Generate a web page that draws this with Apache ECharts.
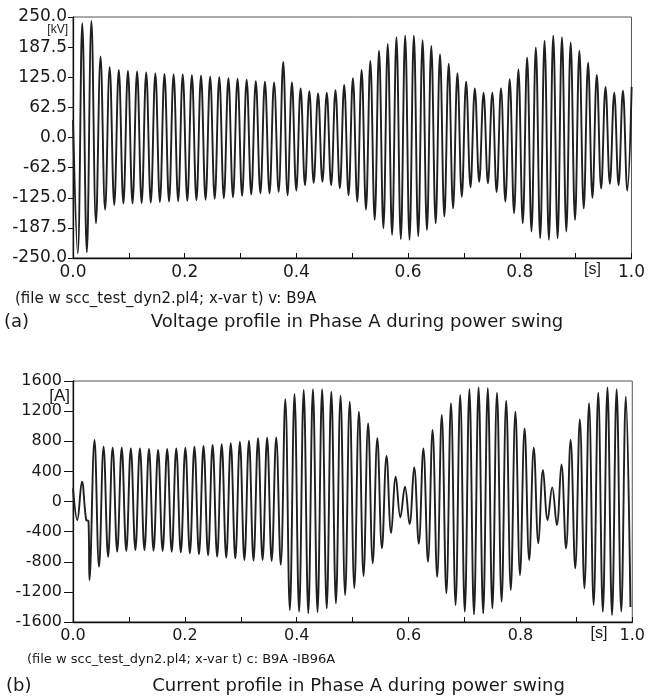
<!DOCTYPE html>
<html>
<head>
<meta charset="utf-8">
<script src="https://cdn.jsdelivr.net/npm/echarts@6/dist/echarts.min.js"></script>
<style>
html,body{margin:0;padding:0;background:#ffffff;}
#c{width:648px;height:697px;}
</style>
</head>
<body>
<div id="c"></div>
<script>
// ---------- Panel (a): voltage, kV ----------
// initial sample at t = 0
const vStart = [[0, 36]];
// successive negative half-cycle peaks (each one precedes the positive peak of same index)
const vNeg = [-240, -238, -178, -150, -140, -137, -137, -136, -135, -134,
              -133, -132, -131, -130, -129, -127, -126, -124, -121, -118,
              -116, -116, -113, -120, -110, -99, -94, -92, -99, -105,
              -120, -133, -150, -171, -188, -202, -211, -212, -205, -192,
              -178, -164, -147, -123, -103, -92, -95, -113, -133, -157,
              -178, -195, -209, -212, -209, -195, -171, -147, -125, -106,
              -96, -99, -110];
// successive positive half-cycle peaks
const vPos = [237, 242, 168, 146, 140, 138, 137, 135, 133, 132,
              131, 131, 129, 128, 126, 125, 123, 122, 120, 117,
              116, 114, 157, 114, 102, 96, 92, 93, 98, 109,
              123, 140, 159, 180, 194, 208, 211, 211, 202, 190,
              173, 153, 133, 116, 102, 93, 93, 102, 121, 141,
              166, 187, 201, 211, 208, 197, 180, 155, 130, 105,
              93, 97, 105];
// times (s) read for some positive peaks (peak index -> time)
const vAnchorIdx = [0, 22, 61];
const vAnchorT = [0.0166, 0.3764, 0.9847];

// ---------- Panel (b): current, A ----------
// start-up transient samples [t, A]
const iStart = [[0, 175], [0.0077, -246], [0.016, 263], [0.0236, -246], [0.0277, -260], [0.0295, -1043]];
// successive positive peaks
const iPos = [816, 728, 715, 715, 706, 706, 697, 684, 697, 706,
              715, 728, 737, 750, 760, 773, 795, 808, 839, 848,
              852, 1357, 1427, 1480, 1490, 1490, 1458, 1405, 1325, 1193,
              1038, 839, 604, 329, 197, 454, 706, 949, 1148, 1304,
              1414, 1490, 1516, 1505, 1445, 1339, 1193, 971, 715, 418,
              188, 493, 817, 1091, 1304, 1445, 1516, 1490, 1392];
// successive negative peaks (each one follows the positive peak of same index)
const iNeg = [-866, -733, -666, -657, -644, -644, -653, -657, -666, -675,
              -688, -700, -715, -733, -746, -755, -777, -786, -777, -790,
              -840, -1441, -1463, -1485, -1470, -1419, -1352, -1242, -1150, -990,
              -820, -620, -420, -210, -300, -560, -800, -1000, -1220, -1375,
              -1463, -1499, -1485, -1419, -1330, -1175, -976, -777, -556, -246,
              -312, -622, -888, -1153, -1375, -1463, -1507, -1463, -1400];
const iAnchorIdx = [0, 21, 58];
const iAnchorT = [0.0384, 0.3796, 0.9885];

// ---------- axis ticks ----------
const xRange = [0, 1], xStep = 0.1;
const vRange = [-250, 250], vStep = 62.5;
const iRange = [-1600, 1600], iStep = 400;

// ---------- build series from the read peaks ----------
function peakTime(k, idx, T) {
  let j = 0;
  while (j < idx.length - 2 && k > idx[j + 1]) j++;
  const per = (T[j + 1] - T[j]) / (idx[j + 1] - idx[j]);
  return { t: T[j] + (k - idx[j]) * per, per: per };
}
const vData = vStart.slice();
for (let k = 0; k < vPos.length; k++) {
  const p = peakTime(k, vAnchorIdx, vAnchorT);
  vData.push([p.t - p.per / 2, vNeg[k]]);
  vData.push([p.t, vPos[k]]);
}
const iData = iStart.slice();
for (let k = 0; k < iPos.length; k++) {
  const p = peakTime(k, iAnchorIdx, iAnchorT);
  iData.push([p.t, iPos[k]]);
  iData.push([p.t + p.per / 2, iNeg[k]]);
}

const FONT = '"DejaVu Sans", sans-serif';
const SANS = '"Liberation Sans", Arial, sans-serif';
const INK = '#1a1a1a';

function tenthLabel(v) {
  const k = Math.round(v * 10);
  return k % 2 === 0 ? (k / 10).toFixed(1) : '';
}
function xAxisCfg(gi, fs) {
  return {
    type: 'value', gridIndex: gi, min: xRange[0], max: xRange[1], interval: xStep,
    axisLine: { show: true, onZero: false, lineStyle: { color: '#111', width: 1.3 } },
    axisTick: { show: true, inside: true, length: 5, lineStyle: { color: '#111', width: 1 } },
    axisLabel: { formatter: tenthLabel, fontSize: fs, fontFamily: FONT, color: INK, margin: 6 },
    splitLine: { show: false }
  };
}
function yAxisCfg(gi, r, step, fs, fmt, tickLen, margin) {
  return {
    type: 'value', gridIndex: gi, min: r[0], max: r[1], interval: step,
    axisLine: { show: true, onZero: false, lineStyle: { color: '#111', width: 1.3 } },
    axisTick: { show: true, inside: false, length: tickLen, lineStyle: { color: '#111', width: 1 } },
    axisLabel: { formatter: fmt, fontSize: fs, fontFamily: FONT, color: INK, margin: margin },
    splitLine: { show: false }
  };
}
function txt(x, y, text, font, align) {
  return { type: 'text', x: x, y: y, silent: true,
    style: { text: text, font: font, fill: INK, align: align, verticalAlign: 'middle' } };
}

const chart = echarts.init(document.getElementById('c'), null, { renderer: 'canvas' });
chart.setOption({
  backgroundColor: '#ffffff',
  animation: false,
  grid: [
    { left: 73, top: 17, width: 560.5, height: 241, show: true, borderColor: '#555', borderWidth: 1, containLabel: false },
    { left: 73, top: 381, width: 564.5, height: 241, show: true, borderColor: '#555', borderWidth: 1, containLabel: false }
  ],
  xAxis: [xAxisCfg(0, 17), xAxisCfg(1, 16)],
  yAxis: [
    yAxisCfg(0, vRange, vStep, 17, v => v.toFixed(1), 5, 6),
    yAxisCfg(1, iRange, iStep, 16, v => String(v), 9, 11)
  ],
  series: [
    { type: 'line', xAxisIndex: 0, yAxisIndex: 0, data: vData, showSymbol: false, smooth: 0.4,
      lineStyle: { color: '#1f1f1f', width: 1.9 }, clip: true },
    { type: 'line', xAxisIndex: 1, yAxisIndex: 1, data: iData, showSymbol: false, smooth: 0.4,
      lineStyle: { color: '#1f1f1f', width: 1.9 }, clip: true }
  ],
  graphic: [
    txt(68, 30, '[kV]', '12px ' + SANS, 'right'),
    txt(592.5, 270, '[s]', '16px ' + SANS, 'center'),
    txt(15, 299, '(file w scc_test_dyn2.pl4; x-var t) v: B9A', '15px ' + FONT, 'left'),
    txt(4, 322, '(a)', '18px ' + FONT, 'left'),
    txt(357, 322, 'Voltage profile in Phase A during power swing', '18px ' + FONT, 'center'),
    txt(70, 396.5, '[A]', '17px ' + SANS, 'right'),
    txt(599, 634, '[s]', '16px ' + SANS, 'center'),
    txt(27, 660, '(file w scc_test_dyn2.pl4; x-var t) c: B9A -IB96A', '13px ' + FONT, 'left'),
    txt(6, 686, '(b)', '18px ' + FONT, 'left'),
    txt(358.5, 686.5, 'Current profile in Phase A during power swing', '18px ' + FONT, 'center')
  ]
});
</script>
</body>
</html>
